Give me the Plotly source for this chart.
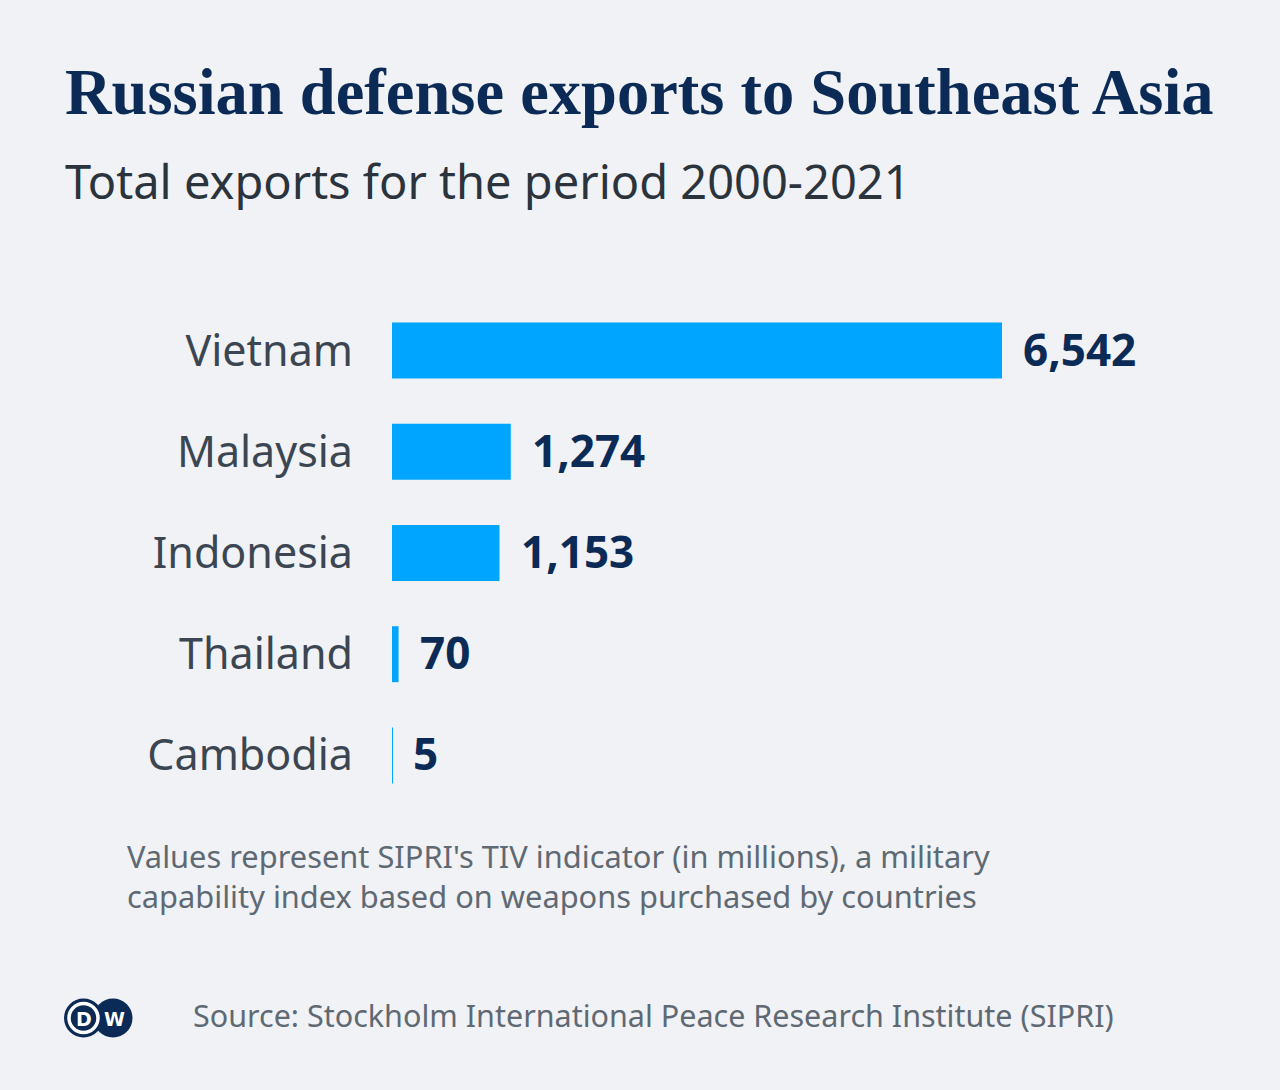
import plotly.graph_objects as go

countries = ["Vietnam", "Malaysia", "Indonesia", "Thailand", "Cambodia"]
exports = [6542, 1274, 1153, 70, 5]
labels = ["6,542", "1,274", "1,153", "70", "5"]

title = "Russian defense exports to Southeast Asia"
subtitle = "Total exports for the period 2000-2021"
note = ("Values represent SIPRI's TIV indicator (in millions), a military<br>"
        "capability index based on weapons purchased by countries")
source = "Source: Stockholm International Peace Research Institute (SIPRI)"

BG = "#f0f2f5"
NAVY = "#0b2a55"
BLUE = "#00a5ff"

# page geometry (pixels)
WIDTH, HEIGHT = 1280, 1090
L, R, T, B = 392, 100, 300, 284
PW = WIDTH - L - R
PH = HEIGHT - T - B


def px(x, y):
    # pixel position on the page -> paper coordinates
    return (x - L) / PW, 1 - (y - T) / PH


fig = go.Figure(go.Bar(
    x=exports, y=countries, orientation="h",
    marker=dict(color=BLUE, line=dict(width=0)),
    hoverinfo="skip",
))

# value labels next to the bars
for c, v, s in zip(countries, exports, labels):
    fig.add_annotation(x=v, y=c, xref="x", yref="y", text=s, showarrow=False,
                       xanchor="left", yanchor="middle", xshift=19, yshift=2,
                       font=dict(family="Noto Sans", size=44, color=NAVY, weight=700))

texts = [
    (title, 63, 93, dict(family="Liberation Serif", size=64.5, color=NAVY, weight=700)),
    (subtitle, 63, 181, dict(family="Noto Sans", size=47, color="#2b333d")),
    (note, 125, 876, dict(family="Noto Sans", size=30.8, color="#5f6973")),
    (source, 191, 1015, dict(family="Noto Sans", size=30.5, color="#5f6973")),
]
for t, x, y, f in texts:
    xp, yp = px(x, y)
    fig.add_annotation(x=xp, y=yp, xref="paper", yref="paper", text=t,
                       showarrow=False, xanchor="left", yanchor="middle",
                       align="left", font=f)

# DW logo
def circle(cx, cy, r, **kw):
    x0, y0 = px(cx - r, cy + r)
    x1, y1 = px(cx + r, cy - r)
    fig.add_shape(type="circle", xref="paper", yref="paper",
                  x0=x0, y0=y0, x1=x1, y1=y1, **kw)

circle(113, 1018, 19.5, fillcolor=NAVY, line=dict(width=0))
circle(83.5, 1018, 19.5, fillcolor=NAVY, line=dict(width=0))
circle(83.5, 1018, 14.5, fillcolor=NAVY, line=dict(color="white", width=3.5))
for ch, cx in (("D", 83.5), ("W", 114)):
    xp, yp = px(cx, 1019)
    fig.add_annotation(x=xp, y=yp, xref="paper", yref="paper", text=ch,
                       showarrow=False, xanchor="center", yanchor="middle",
                       font=dict(family="DejaVu Sans", size=19, color="white", weight=900))

fig.update_layout(
    width=WIDTH, height=HEIGHT,
    paper_bgcolor=BG, plot_bgcolor=BG,
    margin=dict(l=L, r=R, t=T, b=B, pad=0),
    bargap=0.447,
    showlegend=False,
    xaxis=dict(range=[0, exports[0] * PW / 610], visible=False, fixedrange=True),
    yaxis=dict(autorange="reversed", showgrid=False, zeroline=False, showline=False,
               ticks="", ticklabelstandoff=38, fixedrange=True,
               tickfont=dict(family="Noto Sans", size=43, color="#3b4652")),
)

# drop the browser's default page margin so the chart fills the window
fig.write_html("out.html", config={"displayModeBar": False},
               post_script="document.body.style.margin='0';")
